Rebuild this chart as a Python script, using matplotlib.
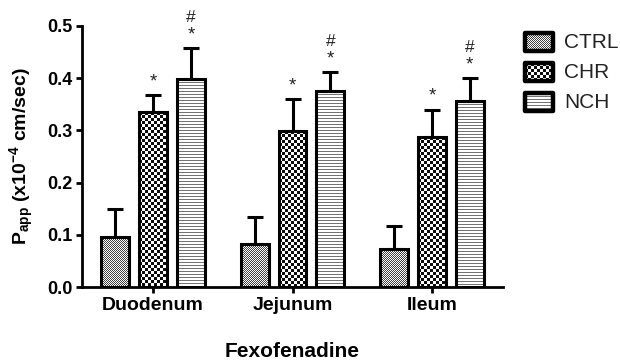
import numpy as np
import matplotlib
matplotlib.use('Agg')
import matplotlib.pyplot as plt
from matplotlib.patches import Rectangle

plt.rcParams['font.family'] = ['Liberation Sans', 'DejaVu Sans']
plt.rcParams['mathtext.fontset'] = 'custom'
plt.rcParams['mathtext.rm'] = 'Liberation Sans:bold'
plt.rcParams['mathtext.bf'] = 'Liberation Sans:bold'
plt.rcParams['mathtext.it'] = 'Liberation Sans:bold'

# data
segments = ['Duodenum', 'Jejunum', 'Ileum']
groups = ['CTRL', 'CHR', 'NCH']
ctrl_mean = [0.095, 0.082, 0.072]
ctrl_err = [0.055, 0.052, 0.045]
chr_mean = [0.335, 0.298, 0.287]
chr_err = [0.033, 0.062, 0.053]
nch_mean = [0.398, 0.375, 0.356]
nch_err = [0.060, 0.037, 0.044]
chr_marks = ['*', '*', '*']
nch_marks = ['*', '*', '*']
nch_marks2 = ['#', '#', '#']

means = [ctrl_mean, chr_mean, nch_mean]
errs = [ctrl_err, chr_err, nch_err]


def texture(kind, h, w):
    yy, xx = np.mgrid[0:max(h, 1), 0:max(w, 1)]
    if kind == 'CTRL':
        return np.where((xx + yy) % 2 == 0, 0.25, 1.0)
    if kind == 'CHR':
        return np.where((xx // 3 + yy // 3) % 2 == 0, 0.05, 1.0)
    return np.where(yy % 3 == 0, 0.45, 1.0)


fig = plt.figure(figsize=(6.2, 3.64), dpi=100)
ax = fig.add_axes([82 / 620, 77 / 364, 421 / 620, 261 / 364])

x = np.arange(len(segments))
width = 0.2
step = 0.272
bar_sets = []
for i, g in enumerate(groups):
    xs = x + (i - 1) * step
    bars = ax.bar(xs, means[i], width, facecolor='none', edgecolor='black',
                  linewidth=2.2, zorder=3)
    ax.errorbar(xs, means[i], yerr=[np.zeros(len(xs)), errs[i]], fmt='none',
                ecolor='black', elinewidth=2.2, capsize=5.5, capthick=2.2, zorder=2)
    bar_sets.append((g, bars))

ax.set_xlim(-0.51, 2.51)
ax.set_ylim(0, 0.5)

# fill textures, clipped to each bar
fig.canvas.draw()
for g, bars in bar_sets:
    for p in bars:
        bb = p.get_window_extent()
        tex = texture(g, int(round(bb.height)), int(round(bb.width)))
        x0, y0 = p.get_x(), p.get_y()
        im = ax.imshow(tex, extent=(x0, x0 + p.get_width(), y0, y0 + p.get_height()),
                       cmap='gray', vmin=0, vmax=1, interpolation='nearest',
                       aspect='auto', zorder=1)
        im.set_clip_path(p)
ax.set_xlim(-0.51, 2.51)
ax.set_ylim(0, 0.5)

# significance marks
for j in range(len(segments)):
    top = chr_mean[j] + chr_err[j]
    ax.annotate(chr_marks[j], (x[j], top), xytext=(0, 3.5), textcoords='offset points',
                ha='center', va='bottom', fontsize=13.5, color='#222222')
    top = nch_mean[j] + nch_err[j]
    ax.annotate(nch_marks[j], (x[j] + step, top), xytext=(0, 3.5), textcoords='offset points',
                ha='center', va='bottom', fontsize=13.5, color='#222222')
    ax.annotate(nch_marks2[j], (x[j] + step, top), xytext=(0, 16.5), textcoords='offset points',
                ha='center', va='bottom', fontsize=12.5, color='#222222')

ax.set_xticks(x)
ax.set_xticklabels(segments, fontsize=14, fontweight='bold')
ax.set_yticks(np.arange(0, 0.51, 0.1))
ax.set_yticklabels(['%.1f' % v for v in np.arange(0, 0.51, 0.1)], fontsize=13, fontweight='bold')
ax.tick_params(axis='both', direction='out', length=4.5, width=2, pad=2)
ax.tick_params(axis='x', pad=3)
for s in ['top', 'right']:
    ax.spines[s].set_visible(False)
for s in ['left', 'bottom']:
    ax.spines[s].set_linewidth(2)

ax.set_ylabel(r'$\mathbf{P_{app}}$ (x10$^{\mathbf{-4}}$ cm/sec)', fontsize=14,
              fontweight='bold', labelpad=8)
ax.set_xlabel('Fexofenadine', fontsize=15, fontweight='bold', labelpad=20)

# legend drawn by hand so the swatches share the bar textures
lax = fig.add_axes([0, 0, 1, 1], zorder=5)
lax.set_xlim(0, 620)
lax.set_ylim(364, 0)
lax.axis('off')
for i, g in enumerate(groups):
    cy = 42 + 30 * i
    r = Rectangle((525, cy - 9), 28, 18, facecolor='none', edgecolor='black',
                  linewidth=3.2, joinstyle='round', zorder=3)
    lax.add_patch(r)
    lax.imshow(texture(g, 18, 28), extent=(525, 553, cy + 9, cy - 9),
               cmap='gray', vmin=0, vmax=1, interpolation='nearest',
               aspect='auto', zorder=1)
    lax.text(564, cy, g, fontsize=15, va='center', ha='left', color='#222222')
lax.set_xlim(0, 620)
lax.set_ylim(364, 0)

fig.savefig('out.png', dpi=100)
